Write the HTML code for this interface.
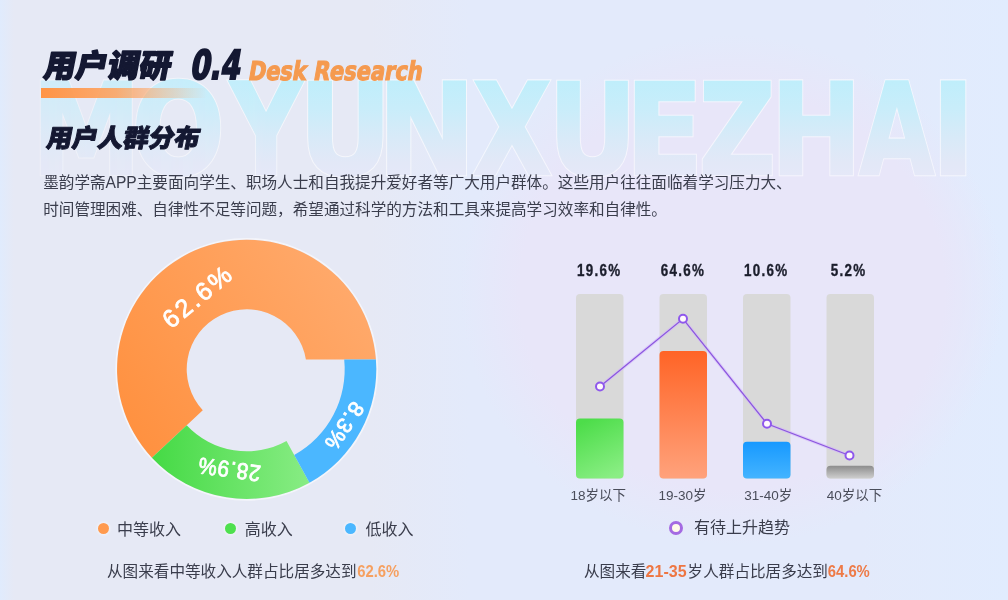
<!DOCTYPE html>
<html lang="zh-CN">
<head>
<meta charset="utf-8">
<title>用户调研 0.4 Desk Research</title>
<style>
*{margin:0;padding:0;box-sizing:border-box;}
html,body{width:1008px;height:600px;overflow:hidden;}
body{position:relative;font-family:"Liberation Sans","Noto Sans CJK SC",sans-serif;
  background:
   radial-gradient(ellipse 272px 255px at 732px 290px, #e8e6f9 0%, #e8e6f9 78%, rgba(232,230,249,0) 100%),
   linear-gradient(90deg,#e0ebfd 0px,#e6e9f5 14px,#e6e9f5 370px,#e3eafb 470px,#e3eafb 860px,#e1ecfe 1008px);}
.abs{position:absolute;white-space:nowrap;}
#wm{position:absolute;left:0;top:0;}
.bar{left:41px;top:88px;width:166px;height:10px;background:linear-gradient(90deg,#ff9446 0%,rgba(255,160,90,0.85) 45%,rgba(255,190,140,0) 100%);}
.para{left:43.2px;top:170.2px;font-size:15.6px;line-height:26.5px;color:#3a3d4c;font-family:"Liberation Sans","Noto Sans CJK SC",sans-serif;}
.lg{font-size:16px;color:#3a3d4c;line-height:20px;}
.dot{position:absolute;width:11px;height:11px;border-radius:50%;}
</style>
</head>
<body>
<svg id="wm" width="1008" height="600" viewBox="0 0 1008 600">
  <defs>
    <linearGradient id="wmg" gradientUnits="userSpaceOnUse" x1="0" y1="-93.6" x2="0" y2="2.4">
      <stop offset="0" stop-color="#bfeefb"/>
      <stop offset="0.3" stop-color="#c9edfa"/>
      <stop offset="0.6" stop-color="#d8eaf8"/>
      <stop offset="0.85" stop-color="#e2e8f7"/>
      <stop offset="1" stop-color="#e5e8f8"/>
    </linearGradient>
    <linearGradient id="wmm" gradientUnits="userSpaceOnUse" x1="40" y1="0" x2="270" y2="0">
      <stop offset="0" stop-color="#ffffff" stop-opacity="0.55"/>
      <stop offset="1" stop-color="#ffffff" stop-opacity="1"/>
    </linearGradient>
    <mask id="wmask" maskUnits="userSpaceOnUse" x="0" y="0" width="1008" height="600">
      <rect x="0" y="0" width="1008" height="600" fill="url(#wmm)"/>
    </mask>
  </defs>
  <g mask="url(#wmask)">
  <g font-family="DejaVu Sans, sans-serif" font-weight="bold" font-size="126.2" fill="#ffffff" stroke="#ffffff" stroke-width="4.6" stroke-linejoin="miter" opacity="0.6">
<text transform="translate(31.84 173.6) scale(0.8686 1)">M</text>
<text transform="translate(131.75 173.6) scale(0.8663 1)">O</text>
<text transform="translate(230.17 173.6) scale(0.7842 1)">Y</text>
<text transform="translate(298.67 173.6) scale(0.9091 1)">U</text>
<text transform="translate(377.44 173.6) scale(0.9291 1)">N</text>
<text transform="translate(472.76 173.6) scale(0.8076 1)">X</text>
<text transform="translate(548.18 173.6) scale(0.8650 1)">U</text>
<text transform="translate(625.46 173.6) scale(0.9009 1)">E</text>
<text transform="translate(698.96 173.6) scale(0.8370 1)">Z</text>
<text transform="translate(770.71 173.6) scale(0.8624 1)">H</text>
<text transform="translate(859.53 173.6) scale(0.7653 1)">A</text>
<text transform="translate(931.21 173.6) scale(0.9315 1)">I</text>
  </g>
  <g font-family="DejaVu Sans, sans-serif" font-weight="bold" font-size="126.2" fill="url(#wmg)" stroke="url(#wmg)" stroke-width="2.4" stroke-linejoin="miter">
<text transform="translate(31.84 173.6) scale(0.8686 1)">M</text>
<text transform="translate(131.75 173.6) scale(0.8663 1)">O</text>
<text transform="translate(230.17 173.6) scale(0.7842 1)">Y</text>
<text transform="translate(298.67 173.6) scale(0.9091 1)">U</text>
<text transform="translate(377.44 173.6) scale(0.9291 1)">N</text>
<text transform="translate(472.76 173.6) scale(0.8076 1)">X</text>
<text transform="translate(548.18 173.6) scale(0.8650 1)">U</text>
<text transform="translate(625.46 173.6) scale(0.9009 1)">E</text>
<text transform="translate(698.96 173.6) scale(0.8370 1)">Z</text>
<text transform="translate(770.71 173.6) scale(0.8624 1)">H</text>
<text transform="translate(859.53 173.6) scale(0.7653 1)">A</text>
<text transform="translate(931.21 173.6) scale(0.9315 1)">I</text>
  </g>
  </g>
</svg>

<div class="abs bar"></div>
<svg class="abs" style="left:0;top:0" width="1008" height="600" viewBox="0 0 1008 600">
  <g fill="#141832" stroke="#141832" stroke-width="1.5" stroke-linejoin="round" font-family="Liberation Sans, Noto Sans CJK SC, sans-serif" font-weight="900">
    <text transform="translate(42.5 77) skewX(-11)" font-size="31.5" textLength="127" lengthAdjust="spacingAndGlyphs">用户调研</text>
    <text transform="translate(45.5 147.3) skewX(-11)" font-size="25" stroke-width="1" textLength="153" lengthAdjust="spacingAndGlyphs">用户人群分布</text>
  </g>
  <text transform="translate(189.5 79.3) skewX(-10)" font-family="DejaVu Sans, sans-serif" font-stretch="condensed" font-weight="bold" font-size="40" fill="#141832" stroke="#141832" stroke-width="2" textLength="50" lengthAdjust="spacingAndGlyphs">0.4</text>
  <text transform="translate(247.5 79.6) skewX(-10)" font-family="DejaVu Sans, sans-serif" font-stretch="condensed" font-weight="bold" font-size="26" fill="#f59a4f" stroke="#f59a4f" stroke-width="1.1" textLength="174" lengthAdjust="spacingAndGlyphs">Desk Research</text>
</svg>
<div class="abs para">墨韵学斋APP主要面向学生、职场人士和自我提升爱好者等广大用户群体。这些用户往往面临着学习压力大、<br>时间管理困难、自律性不足等问题，希望通过科学的方法和工具来提高学习效率和自律性。</div>

<!-- donut -->
<svg class="abs" style="left:0;top:0" width="1008" height="600" viewBox="0 0 1008 600">
  <defs>
    <linearGradient id="og" x1="0" y1="0.8" x2="1" y2="0.2">
      <stop offset="0" stop-color="#ff9140"/>
      <stop offset="1" stop-color="#ffab6e"/>
    </linearGradient>
    <linearGradient id="gg" x1="0" y1="0" x2="1" y2="0">
      <stop offset="0" stop-color="#45da45"/>
      <stop offset="1" stop-color="#88ec84"/>
    </linearGradient>
    <linearGradient id="b2" x1="0" y1="0" x2="0" y2="1">
      <stop offset="0" stop-color="#ff6426"/>
      <stop offset="1" stop-color="#ffa27c"/>
    </linearGradient>
    <linearGradient id="b1" x1="0.3" y1="0" x2="0.7" y2="1">
      <stop offset="0" stop-color="#4ddd4a"/>
      <stop offset="1" stop-color="#8aee84"/>
    </linearGradient>
    <linearGradient id="b3" x1="0" y1="0" x2="0" y2="1">
      <stop offset="0" stop-color="#1799ff"/>
      <stop offset="1" stop-color="#44b4ff"/>
    </linearGradient>
    <linearGradient id="b4" x1="0" y1="0" x2="0" y2="1">
      <stop offset="0" stop-color="#8c8c8c"/>
      <stop offset="1" stop-color="#cfcfcf"/>
    </linearGradient>
  </defs>
  <g>
    <circle cx="246.7" cy="369.3" r="130.6" fill="none" stroke="#ffffff" stroke-opacity="0.55" stroke-width="1.6"/>
    <path d="M 375.9 359.5 A 129.6 129.6 0 1 0 151.9 457.7 L 202.8 410.2 A 60 60 0 1 1 305.9 359.5 Z" fill="url(#og)"/>
    <path d="M 309.5 482.7 A 129.6 129.6 0 0 1 151.9 457.7 L 186.7 425.2 A 82 82 0 0 0 286.5 441.0 Z" fill="url(#gg)"/>
    <path d="M 375.9 359.5 A 129.6 129.6 0 0 1 309.5 482.7 L 294.2 455.0 A 98 98 0 0 0 344.2 359.5 Z" fill="#4bb7ff"/>
  </g>
  <g font-family="Liberation Sans, sans-serif" font-size="22.5" fill="#ffffff" stroke="#ffffff" stroke-width="0.8" letter-spacing="1">
    <text transform="translate(171 329.5) rotate(-39.5)" font-size="25" letter-spacing="2.6">62.6%</text>
    <text transform="translate(261.5 466) rotate(188) scale(0.9 1)" font-size="23">28.9%</text>
    <text transform="translate(353 400) rotate(124)" font-size="21.5">8.3%</text>
  </g>

  <!-- bar chart -->
  <g fill="#d9d9d9">
    <rect x="576" y="294" width="47.5" height="184.6" rx="4"/>
    <rect x="659.5" y="294" width="47.5" height="184.6" rx="4"/>
    <rect x="743" y="294" width="47.5" height="184.6" rx="4"/>
    <rect x="826.5" y="294" width="47.5" height="184.6" rx="4"/>
  </g>
  <rect x="576" y="418.6" width="47.5" height="60" rx="4" fill="url(#b1)"/>
  <rect x="659.5" y="351" width="47.5" height="127.6" rx="4" fill="url(#b2)"/>
  <rect x="743" y="441.7" width="47.5" height="36.9" rx="4" fill="url(#b3)"/>
  <rect x="826.5" y="465.7" width="47.5" height="12.9" rx="4" fill="url(#b4)"/>
  <polyline points="600,386.5 683,318.8 767,423.7 849.5,455.5" fill="none" stroke="#d2b4fa" stroke-opacity="0.6" stroke-width="3.2"/>
  <polyline points="600,386.5 683,318.8 767,423.7 849.5,455.5" fill="none" stroke="#8a56de" stroke-width="1.2"/>
  <g fill="#fff8fc" stroke="#8f58ec" stroke-width="2">
    <circle cx="600" cy="386.5" r="4"/>
    <circle cx="683" cy="318.8" r="4"/>
    <circle cx="767" cy="423.7" r="4"/>
    <circle cx="849.5" cy="455.5" r="4"/>
  </g>
  <g font-family="Liberation Sans, sans-serif" font-weight="bold" font-size="15.6" fill="#1b1e2c" stroke="#1b1e2c" stroke-width="0.35" letter-spacing="1.5">
    <text transform="translate(577 276.2) scale(0.86 1)">19.6%</text>
    <text transform="translate(660.8 276.2) scale(0.86 1)">64.6%</text>
    <text transform="translate(744 276.2) scale(0.86 1)">10.6%</text>
    <text transform="translate(830.8 276.2) scale(0.86 1)">5.2%</text>
  </g>
  <g font-family="Liberation Sans, Noto Sans CJK SC, sans-serif" font-size="13.5" fill="#4a4d5a" text-anchor="middle">
    <text x="598.3" y="500">18岁以下</text>
    <text x="682.5" y="500">19-30岁</text>
    <text x="768.3" y="500">31-40岁</text>
    <text x="854.6" y="500">40岁以下</text>
  </g>
</svg>

<!-- legends -->
<div class="dot" style="left:97.5px;top:523.3px;background:#ff9a4e;box-shadow:0 0 3px 1px rgba(255,255,255,0.6);"></div>
<div class="abs lg" style="left:117px;top:520px;">中等收入</div>
<div class="dot" style="left:224.5px;top:523.3px;background:#4ee04e;box-shadow:0 0 3px 1px rgba(255,255,255,0.6);"></div>
<div class="abs lg" style="left:244.7px;top:520px;">高收入</div>
<div class="dot" style="left:345px;top:522.5px;background:#4bb7ff;box-shadow:0 0 3px 1px rgba(255,255,255,0.6);"></div>
<div class="abs lg" style="left:365.4px;top:520px;">低收入</div>


<div class="abs" style="left:669px;top:520.5px;width:14px;height:14px;border-radius:50%;border:3px solid #a46ae2;background:#fffbea;"></div>
<div class="abs lg" style="left:694px;top:518px;">有待上升趋势</div>
<svg class="abs" style="left:0;top:0" width="1008" height="600" viewBox="0 0 1008 600">
  <g font-family="Liberation Sans, Noto Sans CJK SC, sans-serif" font-size="15.6" fill="#3a3d4c">
    <text x="107" y="576.5">从图来看中等收入人群占比居多达到</text>
    <text x="357.2" y="576.5" font-family="Liberation Sans, sans-serif" font-weight="bold" font-size="15.6" fill="#f6a060" textLength="42" lengthAdjust="spacingAndGlyphs">62.6%</text>
    <text x="584" y="576.5">从图来看</text>
    <text x="645.6" y="576.5" font-family="Liberation Sans, sans-serif" font-weight="bold" font-size="15.6" fill="#ee7642" textLength="41" lengthAdjust="spacingAndGlyphs">21-35</text>
    <text x="687.6" y="576.5">岁人群占比居多达到</text>
    <text x="827.8" y="576.5" font-family="Liberation Sans, sans-serif" font-weight="bold" font-size="15.6" fill="#ee7a46" textLength="42" lengthAdjust="spacingAndGlyphs">64.6%</text>
  </g>
</svg>
</body>
</html>
